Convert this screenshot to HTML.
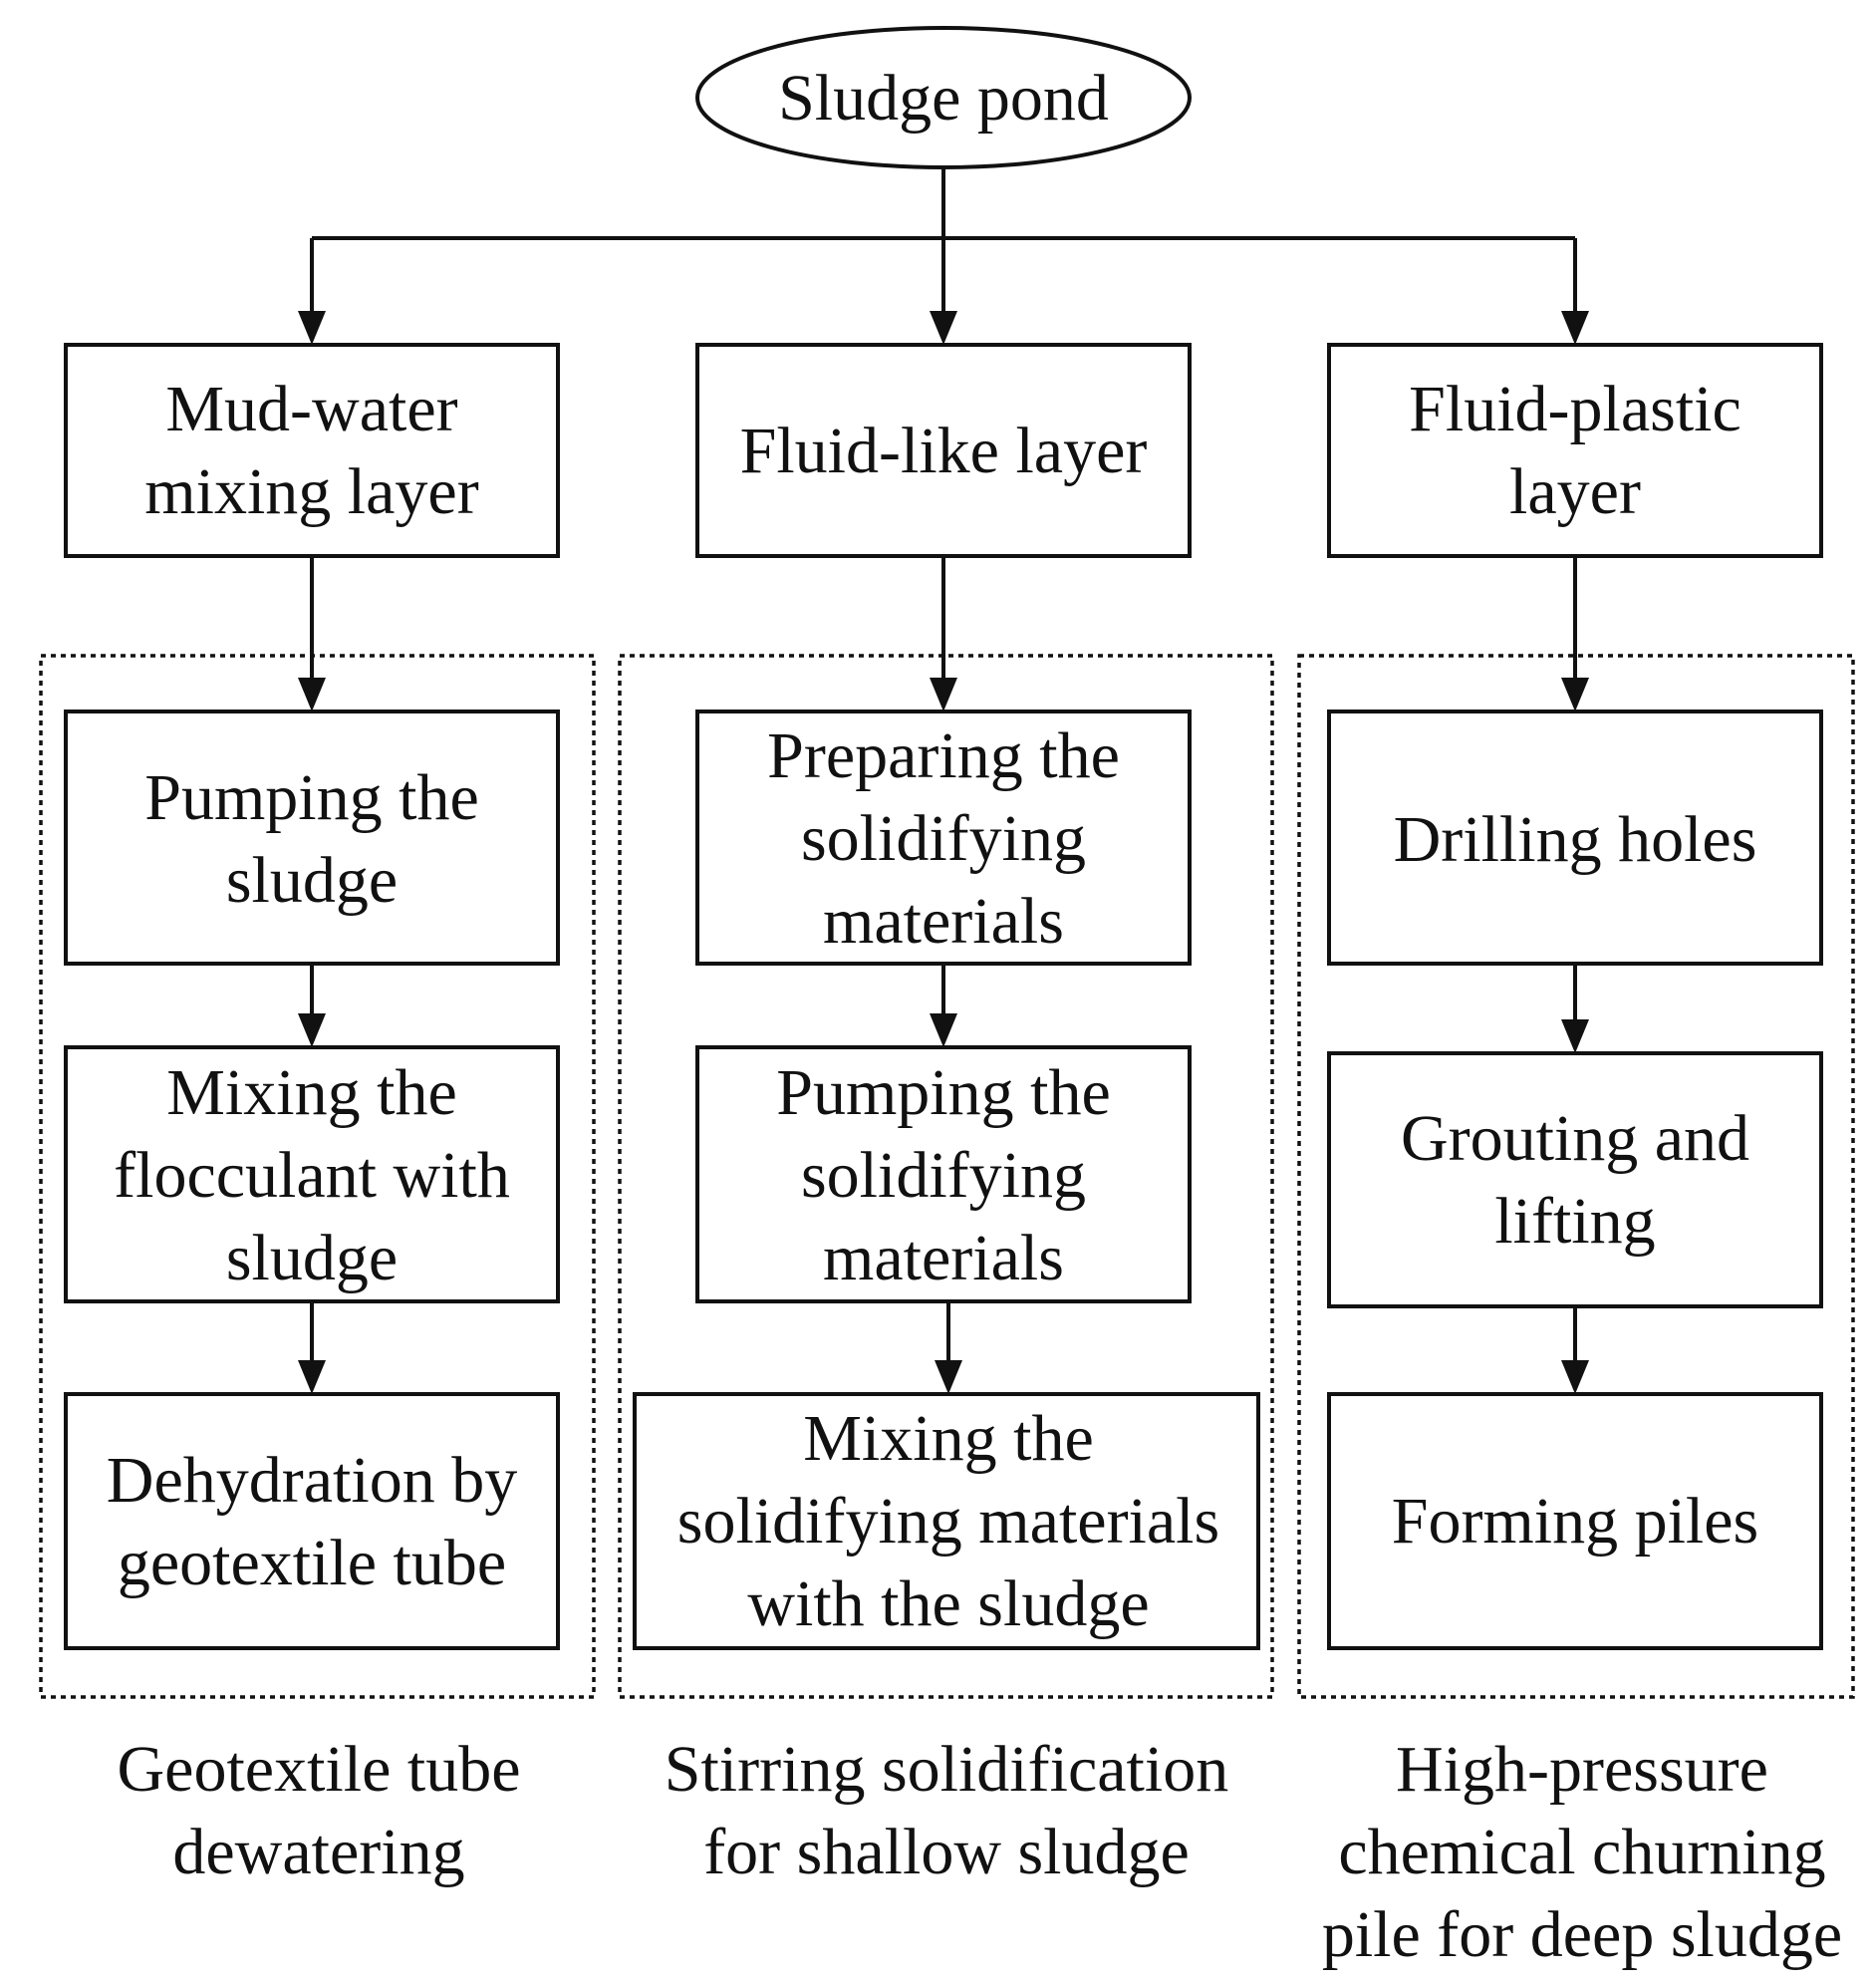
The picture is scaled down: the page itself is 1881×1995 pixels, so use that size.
<!DOCTYPE html>
<html><head><meta charset="utf-8"><style>
html,body{margin:0;padding:0;background:#fff}
svg{display:block}
text{font-family:"Liberation Serif",serif;font-size:66px;fill:#111;text-anchor:middle}
</style></head><body>
<svg width="1881" height="1995" viewBox="0 0 1881 1995" xmlns="http://www.w3.org/2000/svg">
<g stroke="#111" stroke-width="4" fill="none">
<ellipse cx="947" cy="98" rx="247" ry="70"/>
<line x1="947" y1="168" x2="947" y2="239"/>
<line x1="313" y1="239" x2="1581" y2="239"/>
<rect x="66" y="346" width="494" height="212"/>
<rect x="700" y="346" width="494" height="212"/>
<rect x="1334" y="346" width="494" height="212"/>
<rect x="66" y="714" width="494" height="253"/>
<rect x="700" y="714" width="494" height="253"/>
<rect x="1334" y="714" width="494" height="253"/>
<rect x="66" y="1051" width="494" height="255"/>
<rect x="700" y="1051" width="494" height="255"/>
<rect x="1334" y="1057" width="494" height="254"/>
<rect x="66" y="1399" width="494" height="255"/>
<rect x="637" y="1399" width="626" height="255"/>
<rect x="1334" y="1399" width="494" height="255"/>
</g>
<g stroke="#111" stroke-width="3.5" fill="none" stroke-dasharray="5,5">
<rect x="41" y="658" width="555" height="1045"/>
<rect x="622" y="658" width="655" height="1045"/>
<rect x="1304" y="658" width="556" height="1045"/>
</g>
<g fill="#111">
<path d="M313 239 V320" stroke="#111" stroke-width="4"/><path d="M299 312 L327 312 L313 346 z"/>
<path d="M947 239 V320" stroke="#111" stroke-width="4"/><path d="M933 312 L961 312 L947 346 z"/>
<path d="M1581 239 V320" stroke="#111" stroke-width="4"/><path d="M1567 312 L1595 312 L1581 346 z"/>
<path d="M313 558 V690" stroke="#111" stroke-width="4"/><path d="M299 680 L327 680 L313 714 z"/>
<path d="M947 558 V690" stroke="#111" stroke-width="4"/><path d="M933 680 L961 680 L947 714 z"/>
<path d="M1581 558 V690" stroke="#111" stroke-width="4"/><path d="M1567 680 L1595 680 L1581 714 z"/>
<path d="M313 967 V1025" stroke="#111" stroke-width="4"/><path d="M299 1017 L327 1017 L313 1051 z"/>
<path d="M947 967 V1025" stroke="#111" stroke-width="4"/><path d="M933 1017 L961 1017 L947 1051 z"/>
<path d="M1581 967 V1030" stroke="#111" stroke-width="4"/><path d="M1567 1023 L1595 1023 L1581 1057 z"/>
<path d="M313 1306 V1373" stroke="#111" stroke-width="4"/><path d="M299 1365 L327 1365 L313 1399 z"/>
<path d="M952 1306 V1373" stroke="#111" stroke-width="4"/><path d="M938 1365 L966 1365 L952 1399 z"/>
<path d="M1581 1311 V1373" stroke="#111" stroke-width="4"/><path d="M1567 1365 L1595 1365 L1581 1399 z"/>
</g>
<text x="947" y="120">Sludge pond</text>
<text x="313" y="432">Mud-water</text><text x="313" y="515">mixing layer</text>
<text x="947" y="474">Fluid-like layer</text>
<text x="1581" y="432">Fluid-plastic</text><text x="1581" y="515">layer</text>
<text x="313" y="822">Pumping the</text><text x="313" y="905">sludge</text>
<text x="947" y="780">Preparing the</text><text x="947" y="863">solidifying</text><text x="947" y="946">materials</text>
<text x="1581" y="864">Drilling holes</text>
<text x="313" y="1118">Mixing the</text><text x="313" y="1201">flocculant with</text><text x="313" y="1284">sludge</text>
<text x="947" y="1118">Pumping the</text><text x="947" y="1201">solidifying</text><text x="947" y="1284">materials</text>
<text x="1581" y="1164">Grouting and</text><text x="1581" y="1247">lifting</text>
<text x="313" y="1507">Dehydration by</text><text x="313" y="1590">geotextile tube</text>
<text x="952" y="1465">Mixing the</text><text x="952" y="1548">solidifying materials</text><text x="952" y="1631">with the sludge</text>
<text x="1581" y="1548">Forming piles</text>
<text x="320" y="1797">Geotextile tube</text><text x="320" y="1880">dewatering</text>
<text x="950" y="1797">Stirring solidification</text><text x="950" y="1880">for shallow sludge</text>
<text x="1588" y="1797">High-pressure</text><text x="1588" y="1880">chemical churning</text><text x="1588" y="1963">pile for deep sludge</text>
</svg>
</body></html>
